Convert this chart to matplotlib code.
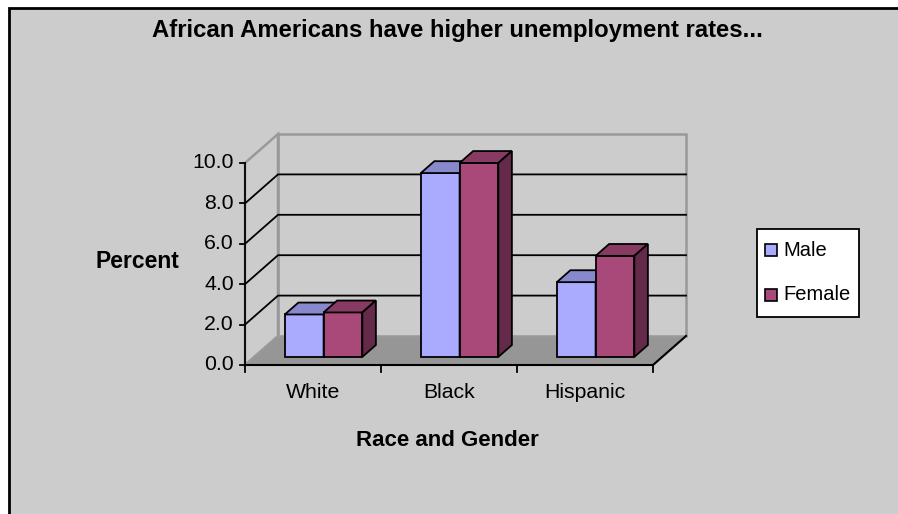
import matplotlib
matplotlib.use('Agg')
import matplotlib.pyplot as plt
from matplotlib.patches import Polygon, Rectangle

# data
categories = ['White', 'Black', 'Hispanic']
male = [2.1, 9.1, 3.7]
female = [2.2, 9.6, 5.0]
series_names = ['Male', 'Female']
y_ticks = [0, 2, 4, 6, 8, 10]
y_tick_labels = ['0.0', '2.0', '4.0', '6.0', '8.0', '10.0']

plt.rcParams['font.family'] = ['Liberation Sans', 'DejaVu Sans']

W, H = 898, 514
fig = plt.figure(figsize=(W / 100, H / 100), dpi=100)
fig.patch.set_facecolor('white')

# grey chart area with black frame (runs off right and bottom)
fig.patches.append(Rectangle((9 / W, -0.1), 1.0, 1.1 - 8 / H, transform=fig.transFigure,
                             fc='#cccccc', ec='black', lw=2, zorder=-1))

# axes in "front plane" units: one unit per category on x, one percent on y
X0, SX = 245, 136.0     # pixel of x=0, pixels per category
Y0, SY = 365, 20.2      # pixel (from top) of y=0, pixels per percent
ax = fig.add_axes([0, 0, 1, 1])
ax.set_xlim(-X0 / SX, (W - X0) / SX)
ax.set_ylim(-(H - Y0) / SY, Y0 / SY)
ax.axis('off')
ax.patch.set_alpha(0)

DX, DY = 33 / SX, 29 / SY   # depth offset of the back wall
ncat = len(categories)
ymax = y_ticks[-1]


def P(x, y, d):
    return (x + d * DX, y + d * DY)


def poly(pts, fc, ec='black', lw=1.3, z=2):
    ax.add_patch(Polygon(pts, closed=True, fc=fc, ec=ec, lw=lw, zorder=z, joinstyle='miter'))


# floor
poly([P(0, 0, 0), P(ncat, 0, 0), P(ncat, 0, 1), P(0, 0, 1)], '#969696', ec='#8a8a8a', lw=1.2, z=1)
# back wall and side wall
poly([P(0, 0, 1), P(ncat, 0, 1), P(ncat, ymax, 1), P(0, ymax, 1)], '#cccccc', ec='#999999', lw=1.8, z=1)
poly([P(0, 0, 0), P(0, 0, 1), P(0, ymax, 1), P(0, ymax, 0)], '#cccccc', ec='#999999', lw=1.8, z=1)

# gridlines on both walls
for t in y_ticks[1:-1]:
    xs, ys = zip(P(0, t, 0), P(0, t, 1), P(ncat, t, 1))
    ax.plot(xs, ys, color='black', lw=1.3, zorder=1.5, solid_joinstyle='miter')

# axes lines
ax.plot([0, 0], [0, ymax], color='black', lw=1.3, zorder=3)
xs, ys = zip(P(0, 0, 0), P(ncat, 0, 0), P(ncat, 0, 1))
ax.plot(xs, ys, color='black', lw=1.5, zorder=3)

# y ticks and labels
for t, lab in zip(y_ticks, y_tick_labels):
    ax.plot([-5 / SX, 0], [t, t], color='black', lw=1.3, zorder=3)
    ax.text(-11 / SX, t, lab, ha='right', va='center', fontsize=15.3)

# x ticks and labels
for i in range(ncat + 1):
    ax.plot([i, i], [0, -7 / SY], color='black', lw=1.3, zorder=3)
for i, cat in enumerate(categories):
    ax.text(i + 0.5, -28 / SY, cat, ha='center', va='center', fontsize=15.3)

# 3D bars
colors = [('#aaaaff', '#8888cc', '#6f6fb0'), ('#a8497a', '#873a62', '#65294a')]
bw, start, d1, d2 = 0.285, 0.225, 0.28, 0.69
for i in range(ncat):
    for j, vals in enumerate([male, female]):
        v = vals[i]
        xl = i + start + j * bw
        xr = xl + bw
        front, top, side = colors[j]
        poly([P(xl, 0, d1), P(xr, 0, d1), P(xr, v, d1), P(xl, v, d1)], front, z=4 + j)
        poly([P(xl, v, d1), P(xr, v, d1), P(xr, v, d2), P(xl, v, d2)], top, z=4 + j)
        poly([P(xr, 0, d1), P(xr, 0, d2), P(xr, v, d2), P(xr, v, d1)], side, z=4 + j)

# titles
fig.text(457 / W, 1 - 31 / H, 'African Americans have higher unemployment rates...',
         ha='center', va='center', fontsize=17.2, fontweight='bold')
fig.text(137 / W, 1 - 262 / H, 'Percent', ha='center', va='center', fontsize=16.5, fontweight='bold')
fig.text(447 / W, 1 - 441 / H, 'Race and Gender', ha='center', va='center', fontsize=16, fontweight='bold')

# legend box drawn by hand to match Excel's layout
fig.patches.append(Rectangle((757 / W, 1 - 317 / H), 102 / W, 88 / H, transform=fig.transFigure,
                             fc='white', ec='black', lw=1.3, zorder=5))
for k, name in enumerate(series_names):
    cy = 250 + 45 * k
    fig.patches.append(Rectangle((765 / W, 1 - (cy + 6) / H), 12 / W, 12 / H, transform=fig.transFigure,
                                 fc=colors[k][0], ec='black', lw=1.2, zorder=6))
    fig.text(783 / W, 1 - cy / H, name, ha='left', va='center', fontsize=14.5, zorder=6)

fig.savefig('out.png', dpi=100)
